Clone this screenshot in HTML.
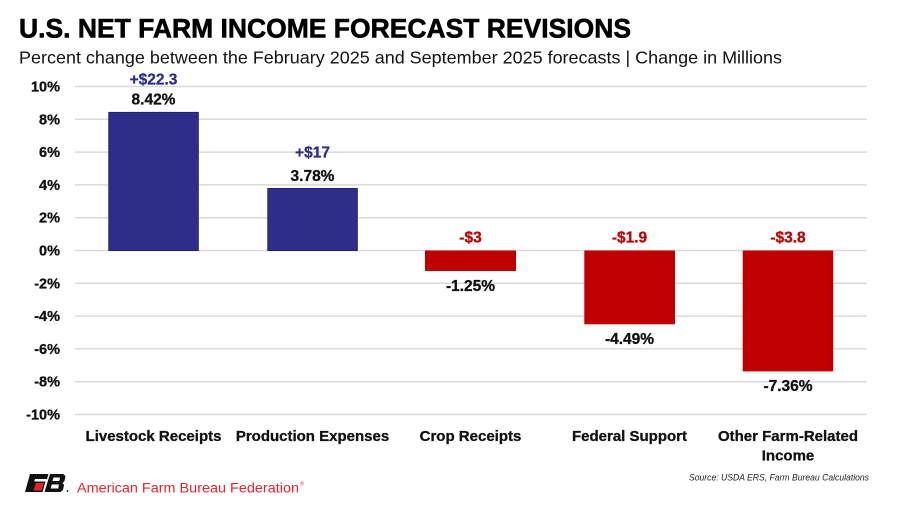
<!DOCTYPE html>
<html>
<head>
<meta charset="utf-8">
<style>
  html, body { margin: 0; padding: 0; background: #ffffff; }
  body { width: 900px; height: 506px; overflow: hidden; }
  svg { display: block; }
  text { font-family: "Liberation Sans", "DejaVu Sans", sans-serif; }
</style>
</head>
<body>
<svg width="900" height="506" viewBox="0 0 900 506" xmlns="http://www.w3.org/2000/svg">
  <rect width="900" height="506" fill="#ffffff"/>

  <!-- Title -->
  <text x="19" y="37.5" font-size="27" font-weight="bold" fill="#000" stroke="#000" stroke-width="0.6" textLength="612" lengthAdjust="spacingAndGlyphs">U.S. NET FARM INCOME FORECAST REVISIONS</text>
  <text x="19" y="63.5" font-size="17.5" fill="#111" textLength="763" lengthAdjust="spacingAndGlyphs">Percent change between the February 2025 and September 2025 forecasts | Change in Millions</text>

  <!-- Gridlines -->
  <g stroke="#d9d9d9" stroke-width="1.5">
    <line x1="75" x2="867" y1="86.5" y2="86.5"/>
    <line x1="75" x2="867" y1="119.3" y2="119.3"/>
    <line x1="75" x2="867" y1="152.1" y2="152.1"/>
    <line x1="75" x2="867" y1="184.9" y2="184.9"/>
    <line x1="75" x2="867" y1="217.7" y2="217.7"/>
    <line x1="75" x2="867" y1="250.5" y2="250.5"/>
    <line x1="75" x2="867" y1="283.3" y2="283.3"/>
    <line x1="75" x2="867" y1="316.1" y2="316.1"/>
    <line x1="75" x2="867" y1="348.9" y2="348.9"/>
    <line x1="75" x2="867" y1="381.7" y2="381.7"/>
    <line x1="75" x2="867" y1="414.5" y2="414.5"/>
  </g>

  <!-- Y axis labels -->
  <g font-size="14.5" font-weight="bold" fill="#111" stroke="#111" stroke-width="0.3" text-anchor="end">
    <text x="60" y="91.5">10%</text>
    <text x="60" y="124.3">8%</text>
    <text x="60" y="157.1">6%</text>
    <text x="60" y="189.9">4%</text>
    <text x="60" y="222.7">2%</text>
    <text x="60" y="255.5">0%</text>
    <text x="60" y="288.3">-2%</text>
    <text x="60" y="321.1">-4%</text>
    <text x="60" y="353.9">-6%</text>
    <text x="60" y="386.7">-8%</text>
    <text x="60" y="419.5">-10%</text>
  </g>

  <!-- Bars -->
  <rect x="108.8" y="112.4" width="89.5" height="138.1" fill="#2e2e8a" stroke="#1f1f75" stroke-width="1"/>
  <rect x="267.8" y="188.5" width="89.5" height="62" fill="#2e2e8a" stroke="#1f1f75" stroke-width="1"/>
  <rect x="425" y="250.5" width="91" height="20.5" fill="#c00000"/>
  <rect x="584.3" y="250.5" width="90.7" height="73.8" fill="#c00000"/>
  <rect x="742.7" y="250.5" width="90.5" height="120.9" fill="#c00000"/>

  <!-- Dollar labels -->
  <g font-size="15.5" font-weight="bold" text-anchor="middle" stroke-width="0.3">
    <text x="153.5" y="84.3" fill="#2e2e8a" stroke="#2e2e8a">+$22.3</text>
    <text x="312.5" y="157.3" fill="#2e2e8a" stroke="#2e2e8a">+$17</text>
    <text x="470.5" y="242.7" fill="#c00000" stroke="#c00000">-$3</text>
    <text x="629.5" y="242.7" fill="#c00000" stroke="#c00000">-$1.9</text>
    <text x="788" y="242.7" fill="#c00000" stroke="#c00000">-$3.8</text>
  </g>

  <!-- Percent labels -->
  <g font-size="15.5" font-weight="bold" fill="#111" stroke="#111" stroke-width="0.3" text-anchor="middle">
    <text x="153.5" y="104.3">8.42%</text>
    <text x="312.5" y="181">3.78%</text>
    <text x="470.5" y="291">-1.25%</text>
    <text x="629.5" y="344">-4.49%</text>
    <text x="788" y="391">-7.36%</text>
  </g>

  <!-- Category labels -->
  <g font-size="15" font-weight="bold" fill="#111" stroke="#111" stroke-width="0.3" text-anchor="middle">
    <text x="153.5" y="441">Livestock Receipts</text>
    <text x="312.5" y="441">Production Expenses</text>
    <text x="470.5" y="441">Crop Receipts</text>
    <text x="629.5" y="441">Federal Support</text>
    <text x="788" y="441">Other Farm-Related</text>
    <text x="788" y="460.5">Income</text>
  </g>

  <!-- Source -->
  <text x="869" y="480.5" font-size="9" font-style="italic" fill="#222" text-anchor="end" textLength="180" lengthAdjust="spacingAndGlyphs">Source: USDA ERS, Farm Bureau Calculations</text>

  <!-- Logo -->
  <g>
    <!-- F -->
    <polygon points="30,474 48.5,474 47,479 35,479 31,492 25,492" fill="#111"/>
    <polygon points="34,481.5 45.5,481.5 42.5,492 30.5,492" fill="#111"/>
    <polygon points="36,483 44,483 41.5,490.5 33.5,490.5" fill="#e8242b"/>
    <!-- B -->
    <polygon points="50,474 63,474 65.5,476 64.5,481 62.5,483 64,485 63,490 60.5,492 44.5,492" fill="#111"/>
    <polygon points="53.5,477.5 60,477.5 59.2,481 52.5,481" fill="#fff"/>
    <polygon points="51.8,484.5 59,484.5 58.2,488.5 50.6,488.5" fill="#fff"/>
    <circle cx="67.5" cy="491" r="0.9" fill="#111"/>
  </g>
  <text x="77" y="492.5" font-size="13.5" fill="#e8242b" textLength="222" lengthAdjust="spacingAndGlyphs">American Farm Bureau Federation</text>
  <text x="300" y="485.5" font-size="5" fill="#e8242b">®</text>
</svg>
</body>
</html>
